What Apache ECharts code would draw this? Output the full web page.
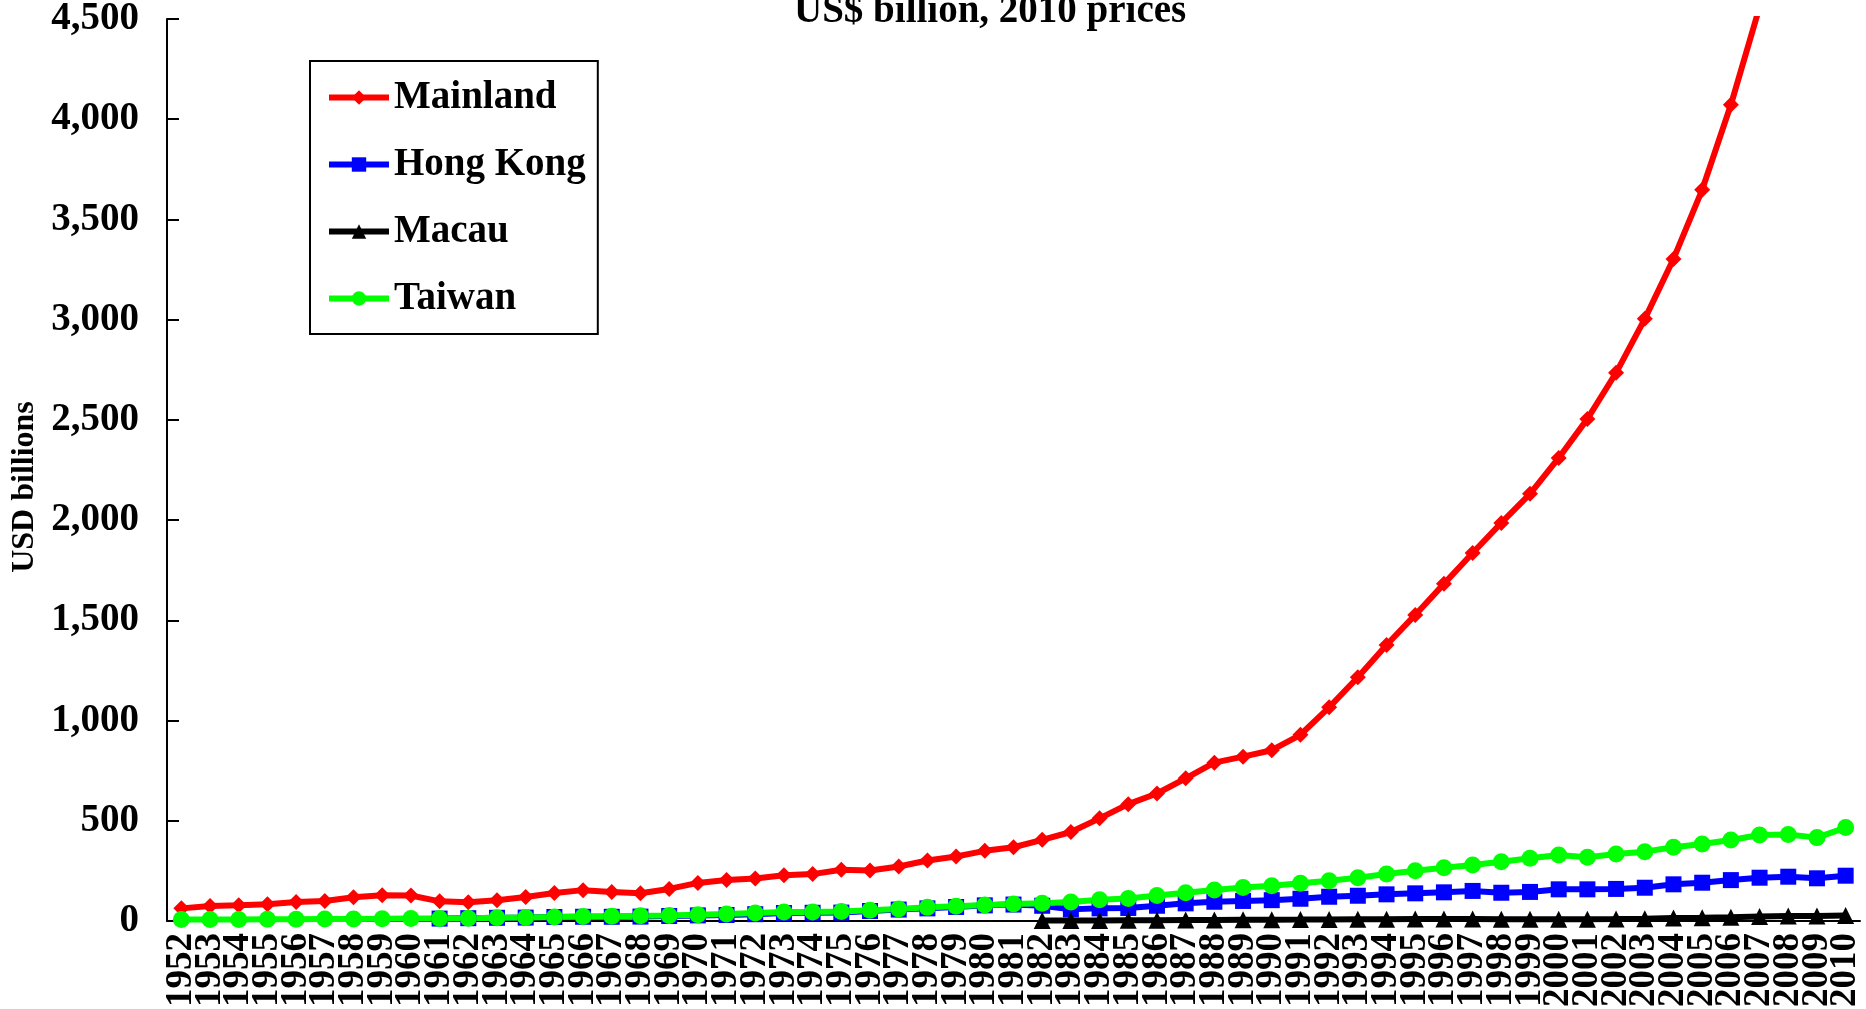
<!DOCTYPE html>
<html>
<head>
<meta charset="utf-8">
<script src="https://cdn.jsdelivr.net/npm/echarts@6/dist/echarts.min.js"></script>
<style>
  html, body { margin: 0; padding: 0; background: #fff; }
  #chart { width: 1866px; height: 1009px; }
</style>
</head>
<body>
<div id="chart"></div>
<script>
const years = [];
for (let y = 1952; y <= 2010; y++) years.push(String(y));

// US$ billion, 2010 prices
const mainland = [63, 75, 78, 83, 95, 100, 118, 128, 127, 98,
  94, 104, 120, 140, 154, 145, 138, 160, 190, 204,
  212, 228, 234, 256, 252, 272, 302, 322, 350, 368,
  405, 444, 512, 583, 636, 712, 790, 820, 852, 929,
  1066, 1216, 1377, 1527, 1682, 1836, 1986, 2131, 2310, 2505,
  2735, 3004, 3303, 3648, 4072, 4560, 5000, 5470, 5980];
const hongKong = [null, null, null, null, null, null, null, null, null, 12,
  14, 16, 17, 20, 21, 21, 22, 25, 28, 30,
  34, 40, 41, 42, 50, 57, 63, 70, 78, 82,
  76, 58, 63, 65, 76, 88, 96, 100, 104, 111,
  121, 126, 133, 138, 143, 150, 141, 145, 158, 158,
  160, 166, 183, 191, 204, 216, 221, 213, 226];
const macau = [null, null, null, null, null, null, null, null, null, null,
  null, null, null, null, null, null, null, null, null, null,
  null, null, null, null, null, null, null, null, null, null,
  3, 3, 3, 3.5, 4, 5, 5.5, 6, 6.5, 7,
  8, 8.5, 9, 9.5, 9.5, 9.5, 9, 8.5, 9, 9,
  10, 11.5, 15, 16.5, 19, 23, 25.5, 25.5, 28];
const taiwan = [7, 8, 8, 9, 9, 10, 10, 11, 12, 13,
  14, 16, 18, 20, 22, 24, 26, 28, 31, 35,
  40, 45, 45, 47, 54, 60, 68, 74, 80, 85,
  88, 95, 106, 112, 127, 141, 155, 167, 176, 188,
  201, 216, 234, 251, 266, 279, 296, 313, 329, 318,
  334, 346, 368, 384, 404, 429, 432, 416, 466];

const font = 'Liberation Serif, Times New Roman, serif';

function lineSeries(name, data, color, symbol, size) {
  return {
    name: name,
    type: 'line',
    data: data,
    symbol: symbol,
    symbolSize: size,
    lineStyle: { color: color, width: 6 },
    itemStyle: { color: color },
    connectNulls: false
  };
}

const chart = echarts.init(document.getElementById('chart'));
chart.setOption({
  animation: false,
  backgroundColor: '#ffffff',
  title: {
    text: 'US$ billion, 2010 prices',
    left: 789,
    top: -13,
    textStyle: { fontFamily: font, fontWeight: 'bold', fontSize: 39, color: '#000' }
  },
  legend: {
    orient: 'vertical',
    left: 310,
    top: 61,
    itemWidth: 60,
    itemHeight: 18,
    itemGap: 28,
    padding: [17, 12, 16, 16],
    borderColor: '#000',
    borderWidth: 2,
    lineStyle: { width: 6 },
    textStyle: { fontFamily: font, fontWeight: 'bold', fontSize: 39, color: '#000' },
    data: ['Mainland', 'Hong Kong', 'Macau', 'Taiwan']
  },
  grid: { left: 167, right: 6, top: 19, bottom: 88, outerBoundsMode: 'none' },
  xAxis: {
    type: 'category',
    data: years,
    boundaryGap: true,
    axisLine: { lineStyle: { color: '#000', width: 2 } },
    axisTick: { show: false },
    axisLabel: {
      interval: 0,
      rotate: 90,
      margin: 12,
      fontFamily: font,
      fontWeight: 'bold',
      fontSize: 37,
      color: '#000'
    },
    splitLine: { show: false }
  },
  yAxis: {
    type: 'value',
    min: 0,
    max: 4500,
    interval: 500,
    name: 'USD billions',
    nameLocation: 'middle',
    nameGap: 126,
    nameTextStyle: { fontFamily: font, fontWeight: 'bold', fontSize: 32, color: '#000', padding: [0, 34, 0, 0] },
    axisLine: { show: true, lineStyle: { color: '#000', width: 2 } },
    axisTick: { show: true, inside: true, length: 12, lineStyle: { color: '#000', width: 2 } },
    axisLabel: {
      margin: 28,
      fontFamily: font,
      fontWeight: 'bold',
      fontSize: 39,
      color: '#000',
      formatter: v => v.toString().replace(/\B(?=(\d{3})+(?!\d))/g, ',')
    },
    splitLine: { show: false }
  },
  series: [
    lineSeries('Mainland', mainland, '#ff0000', 'diamond', 16),
    lineSeries('Hong Kong', hongKong, '#0000ff', 'rect', 16),
    lineSeries('Macau', macau, '#000000', 'triangle', 17),
    lineSeries('Taiwan', taiwan, '#00ff00', 'circle', 17)
  ]
});
</script>
</body>
</html>
